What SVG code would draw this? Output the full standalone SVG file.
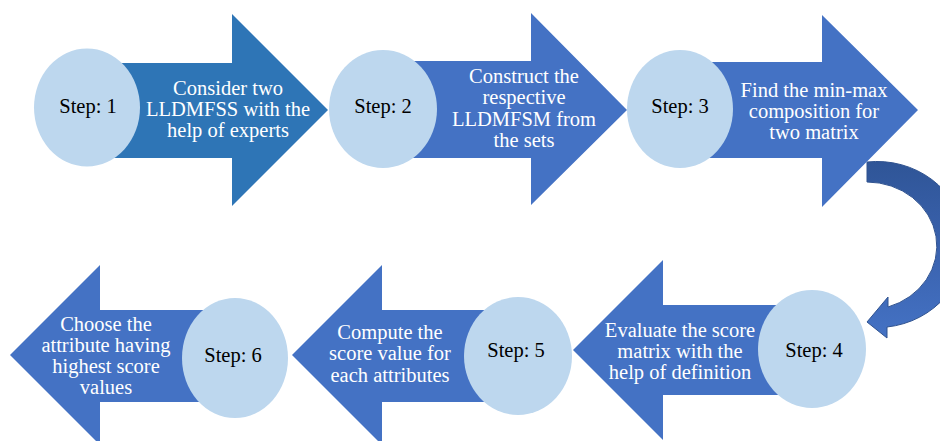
<svg xmlns="http://www.w3.org/2000/svg" width="940" height="441" viewBox="0 0 940 441" font-family="Liberation Serif, Times New Roman, serif">
<defs>
<style>
.ar{fill:#4472C4;}
.ar1{fill:#2E75B6;}
.ci{fill:#BDD7EE;}
.st{fill:#000;font-size:20.5px;text-anchor:middle;}
.wt{fill:#fff;font-size:20.5px;text-anchor:middle;}
</style>
<linearGradient id="cg" x1="0" y1="0" x2="0" y2="1">
<stop offset="0" stop-color="#2F5597"/>
<stop offset="0.5" stop-color="#3A62AE"/>
<stop offset="1" stop-color="#4472C4"/>
</linearGradient>
</defs>
<rect width="940" height="441" fill="#fff"/>
<g id="connectors">
<path d="M867,162 A88,83 0 0 1 887,327 L887,338 L867,322 L888,297 L888,307 A70,64 0 0 0 867,182 Z" fill="url(#cg)" stroke="#2F528F" stroke-width="1"/>
</g>
<g id="arrow1">
<path class="ar1" d="M100,63 L232,63 L232,14 L328,110 L232,206 L232,158 L100,158 Z"/>
<text class="wt" x="228" y="95">Consider two</text>
<text class="wt" x="228" y="116">LLDMFSS with the</text>
<text class="wt" x="228" y="137">help of experts</text>
</g>
<g id="arrow2">
<path class="ar" d="M400,61 L531,61 L531,13 L627,110 L531,205 L531,158 L400,158 Z"/>
<text class="wt" x="524" y="83">Construct the</text>
<text class="wt" x="524" y="104">respective</text>
<text class="wt" x="524" y="126">LLDMFSM from</text>
<text class="wt" x="524" y="147">the sets</text>
</g>
<g id="arrow3">
<path class="ar" d="M700,62 L822,62 L822,15 L918,110 L822,207 L822,158 L700,158 Z"/>
<text class="wt" x="814" y="97">Find the min-max</text>
<text class="wt" x="814" y="118">composition for</text>
<text class="wt" x="814" y="139">two matrix</text>
</g>
<g id="arrow4">
<path class="ar" d="M790,305 L663,305 L663,260 L573,350 L663,440 L663,395 L790,395 Z"/>
<text class="wt" x="680" y="337">Evaluate the score</text>
<text class="wt" x="680" y="358">matrix with the</text>
<text class="wt" x="680" y="379">help of definition</text>
</g>
<g id="arrow5">
<path class="ar" d="M500,310 L382,310 L382,265 L292,355 L382,445 L382,402 L500,402 Z"/>
<text class="wt" x="390" y="339">Compute the</text>
<text class="wt" x="390" y="360">score value for</text>
<text class="wt" x="390" y="382">each attributes</text>
</g>
<g id="arrow6">
<path class="ar" d="M215,310 L100,310 L100,265 L10,355 L100,445 L100,402 L215,402 Z"/>
<text class="wt" x="106" y="331">Choose the</text>
<text class="wt" x="106" y="352">attribute having</text>
<text class="wt" x="106" y="373">highest score</text>
<text class="wt" x="106" y="394">values</text>
</g>
<g id="step1">
<ellipse class="ci" cx="87" cy="107.5" rx="53" ry="59"/>
<text class="st" x="88" y="113">Step: 1</text>
</g>
<g id="step2">
<ellipse class="ci" cx="383" cy="109" rx="54" ry="59"/>
<text class="st" x="383" y="113">Step: 2</text>
</g>
<g id="step3">
<ellipse class="ci" cx="680" cy="109" rx="53" ry="59"/>
<text class="st" x="680" y="113">Step: 3</text>
</g>
<g id="step4">
<ellipse class="ci" cx="812" cy="349" rx="54" ry="59"/>
<text class="st" x="814" y="357">Step: 4</text>
</g>
<g id="step5">
<ellipse class="ci" cx="518" cy="356" rx="54" ry="59"/>
<text class="st" x="516" y="357">Step: 5</text>
</g>
<g id="step6">
<ellipse class="ci" cx="235" cy="358" rx="53" ry="60"/>
<text class="st" x="233" y="362">Step: 6</text>
</g>
</svg>
